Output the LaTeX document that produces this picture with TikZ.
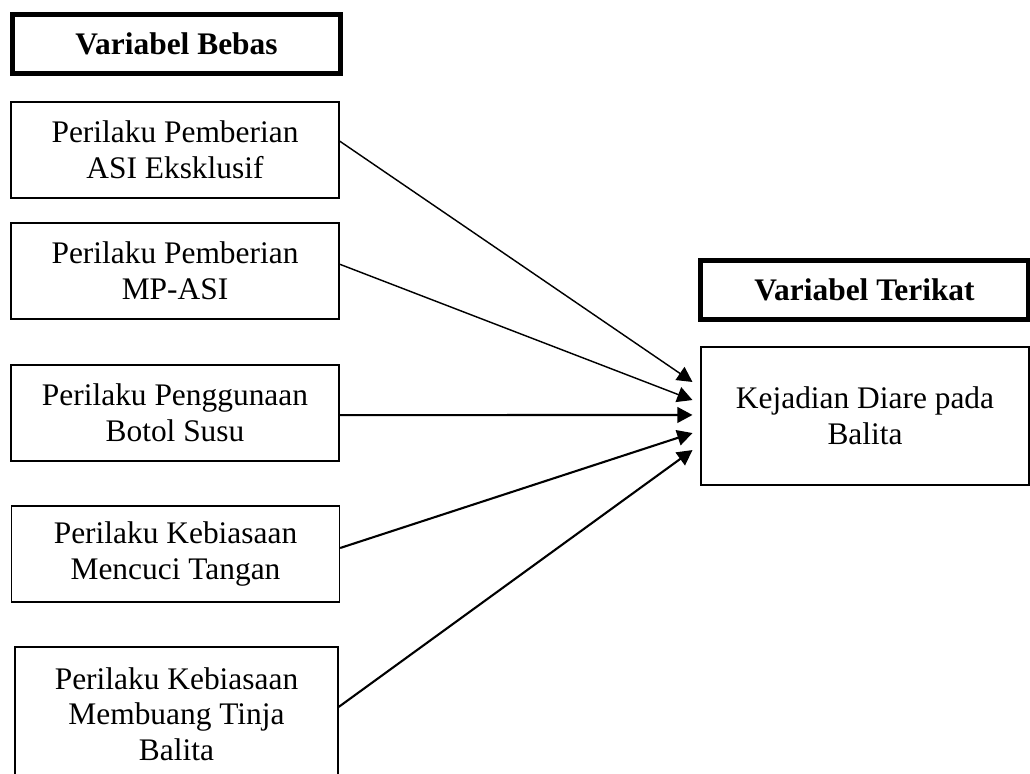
\documentclass[tikz,border=0pt]{standalone}
\usepackage{fontspec}
\setmainfont{Liberation Serif}
\usetikzlibrary{arrows.meta}

\begin{document}
\begin{tikzpicture}[x=0.382pt,y=-0.382pt,
        every node/.style={font=\fontsize{12}{13.6}\selectfont,align=center},
        varbox/.style={rectangle,draw,line width=0.5pt,minimum width=125.3pt,minimum height=36.7pt,inner sep=0pt},
        header/.style={rectangle,draw,line width=1.9pt,minimum width=125.3pt,minimum height=22.5pt,inner sep=0pt,font=\fontsize{12}{13.6}\selectfont\bfseries},
        link/.style={-{Triangle[length=5.8pt,width=6pt]},line width=0.55pt},
        boldlink/.style={link,line width=0.8pt}]

    \useasboundingbox (0,0) rectangle (1030,773);

    \node[header] (bebas) at (176.5,44) {Variabel Bebas};
    \node[header] (terikat) at (864.5,290) {Variabel Terikat};

    \node[varbox] (asi) at (175,150) {Perilaku Pemberian\\ASI Eksklusif};
    \node[varbox] (mpasi) at (175,271) {Perilaku Pemberian\\MP-ASI};
    \node[varbox] (botol) at (175,413) {Perilaku Penggunaan\\Botol Susu};
    \node[varbox] (cuci) at (175.5,554) {Perilaku Kebiasaan\\Mencuci Tangan};
    \node[varbox,minimum width=123.4pt,minimum height=51.2pt] (tinja) at (176.5,714) {Perilaku Kebiasaan\\Membuang Tinja\\Balita};

    \node[varbox,minimum height=52.7pt] (diare) at (865,416) {Kejadian Diare pada\\Balita};

    \coordinate (in1) at ([xshift=-3pt,yshift=13pt]diare.west);
    \coordinate (in2) at ([xshift=-3pt,yshift=6.1pt]diare.west);
    \coordinate (in3) at ([xshift=-3pt,yshift=0.4pt]diare.west);
    \coordinate (in4) at ([xshift=-3pt,yshift=-6.5pt]diare.west);
    \coordinate (in5) at ([xshift=-3pt,yshift=-13pt]diare.west);

    \draw[link] ([yshift=3.4pt]asi.east) -- (in1);
    \draw[link] ([yshift=2.6pt]mpasi.east) -- (in2);
    \draw[boldlink] ([yshift=-0.8pt]botol.east) -- (in3);
    \draw[boldlink] ([yshift=2.3pt]cuci.east) -- (in4);
    \draw[boldlink] ([yshift=2.7pt]tinja.east) -- (in5);
\end{tikzpicture}
\end{document}
